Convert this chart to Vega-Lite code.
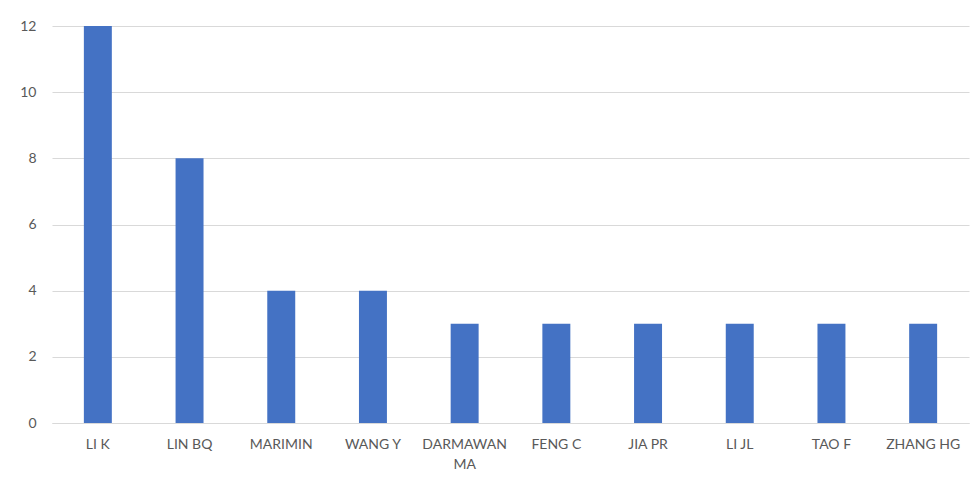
{
  "$schema": "https://vega.github.io/schema/vega-lite/v6.json",
  "autosize": {"type": "none"},
  "padding": {"left": 52, "top": 26, "right": 8, "bottom": 66},
  "width": 917,
  "height": 397,
  "background": "white",
  "config": {"view": {"stroke": null}, "font": "Lato"},
  "data": {"values": [
    {"author": "LI K", "count": 12},
    {"author": "LIN BQ", "count": 8},
    {"author": "MARIMIN", "count": 4},
    {"author": "WANG Y", "count": 4},
    {"author": "DARMAWAN MA", "count": 3},
    {"author": "FENG C", "count": 3},
    {"author": "JIA PR", "count": 3},
    {"author": "LI JL", "count": 3},
    {"author": "TAO F", "count": 3},
    {"author": "ZHANG HG", "count": 3}
  ]},
  "mark": {"type": "bar", "color": "#4472c4"},
  "encoding": {
    "x": {
      "field": "author", "type": "nominal", "sort": null,
      "scale": {"paddingInner": 0.695, "paddingOuter": 0.3475},
      "axis": {
        "title": null, "labelAngle": 0, "ticks": false,
        "domainColor": "#d9d9d9", "domainWidth": 1,
        "labelFontSize": 14, "labelColor": "#595959", "labelPadding": 14,
        "labelExpr": "datum.label == 'DARMAWAN MA' ? ['DARMAWAN', 'MA'] : datum.label",
        "labelLineHeight": 20
      }
    },
    "y": {
      "field": "count", "type": "quantitative",
      "scale": {"domain": [0, 12]},
      "axis": {
        "title": null, "values": [0, 2, 4, 6, 8, 10, 12], "domain": false, "ticks": false,
        "gridColor": "#d9d9d9", "gridWidth": 1,
        "labelFontSize": 14, "labelColor": "#595959", "labelPadding": 16
      }
    }
  }
}
